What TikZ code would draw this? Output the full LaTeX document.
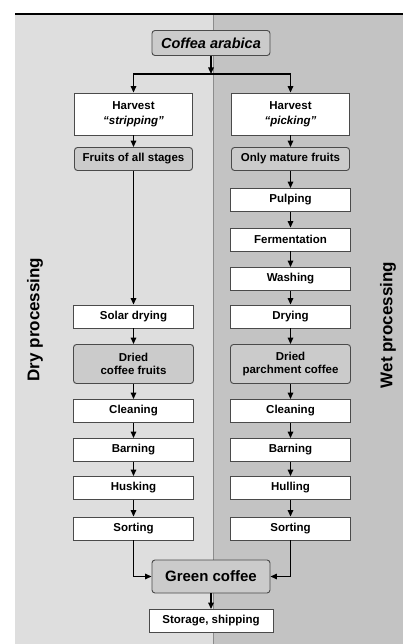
\documentclass[tikz,border=0pt]{standalone}
\usepackage{fontspec}
\setmainfont{Liberation Sans}
\usetikzlibrary{arrows.meta}
\definecolor{cdry}{HTML}{DEDEDE}
\definecolor{cwet}{HTML}{C3C3C3}
\definecolor{cprod}{HTML}{CBCBCB}
\definecolor{cedge}{HTML}{4A4A4A}
\definecolor{csplit}{HTML}{8C8C8C}
\tikzset{
  stepbox/.style={draw=cedge, fill=white, line width=0.9pt, minimum width=120pt, minimum height=23pt, inner sep=1pt, align=center, font=\bfseries\fontsize{11.5}{13.5}\selectfont},
  prod/.style={stepbox, fill=cprod, rounded corners=3pt},
  sidelbl/.style={rotate=90, font=\bfseries\fontsize{17}{19}\selectfont},
  ar/.style={-{Triangle[length=6.5pt,width=5.5pt]}, line width=1.4pt},
}

\begin{document}
\begin{tikzpicture}[x=1pt,y=-1pt]
\useasboundingbox (0,0) rectangle (403,644);
% the two halves
\fill[cdry] (15,14) rectangle (213,644);
\fill[cwet] (213,14) rectangle (403,644);
\draw[csplit, line width=0.8pt] (213,14) -- (213,644);
\draw[line width=1.6pt] (15,14) -- (403,14);
\node[sidelbl] (dry) at (35,319.5) {Dry processing};
\node[sidelbl] (wet) at (388,325) {Wet processing};

\node[prod, minimum width=118pt, minimum height=25pt, font=\bfseries\itshape\fontsize{14.5}{16}\selectfont] (coffea) at (211,43) {Coffea arabica};
\coordinate (split) at (211,74);

% dry side
\node[stepbox, minimum width=118pt, minimum height=42pt] (harvD) at (133.5,114) {Harvest\\[1.5pt]{\itshape ``stripping''}};
\node[prod, minimum width=118pt] (fruitsD) at (133.5,159) {Fruits of all stages};
\node[stepbox] (solarD) at (133.5,316.5) {Solar drying};
\node[prod, minimum height=39pt] (driedD) at (133.5,364) {Dried\\coffee fruits};
\node[stepbox] (cleanD) at (133.5,411) {Cleaning};
\node[stepbox] (barnD) at (133.5,450) {Barning};
\node[stepbox] (huskD) at (133.5,488) {Husking};
\node[stepbox] (sortD) at (133.5,528.5) {Sorting};

% wet side
\node[stepbox, minimum width=118pt, minimum height=42pt] (harvW) at (290.5,114) {Harvest\\[1.5pt]{\itshape ``picking''}};
\node[prod, minimum width=118pt] (fruitsW) at (290.5,159) {Only mature fruits};
\node[stepbox] (pulpW) at (290.5,200) {Pulping};
\node[stepbox] (fermW) at (290.5,239.5) {Fermentation};
\node[stepbox] (washW) at (290.5,279) {Washing};
\node[stepbox] (dryW) at (290.5,316.5) {Drying};
\node[prod, minimum height=39pt] (driedW) at (290.5,364) {Dried\\parchment coffee};
\node[stepbox] (cleanW) at (290.5,411) {Cleaning};
\node[stepbox] (barnW) at (290.5,450) {Barning};
\node[stepbox] (hullW) at (290.5,488) {Hulling};
\node[stepbox] (sortW) at (290.5,528.5) {Sorting};

\node[prod, minimum width=118pt, minimum height=33pt, font=\bfseries\fontsize{15}{17}\selectfont] (green) at (211,576.5) {Green coffee};
\node[stepbox, minimum width=124pt] (store) at (211,621) {Storage, shipping};

\draw[ar] (coffea) -- (split);
\draw[ar] (split) -| (harvD.north);
\draw[ar] (split) -| (harvW.north);
\draw[ar] (harvD) -- (fruitsD); \draw[ar] (fruitsD) -- (solarD); \draw[ar] (solarD) -- (driedD);
\draw[ar] (driedD) -- (cleanD); \draw[ar] (cleanD) -- (barnD); \draw[ar] (barnD) -- (huskD); \draw[ar] (huskD) -- (sortD);
\draw[ar] (harvW) -- (fruitsW); \draw[ar] (fruitsW) -- (pulpW); \draw[ar] (pulpW) -- (fermW); \draw[ar] (fermW) -- (washW);
\draw[ar] (washW) -- (dryW); \draw[ar] (dryW) -- (driedW); \draw[ar] (driedW) -- (cleanW); \draw[ar] (cleanW) -- (barnW);
\draw[ar] (barnW) -- (hullW); \draw[ar] (hullW) -- (sortW);
\draw[ar] (sortD) |- (green);
\draw[ar] (sortW) |- (green);
\draw[ar] (green) -- (store);
\end{tikzpicture}
\end{document}
